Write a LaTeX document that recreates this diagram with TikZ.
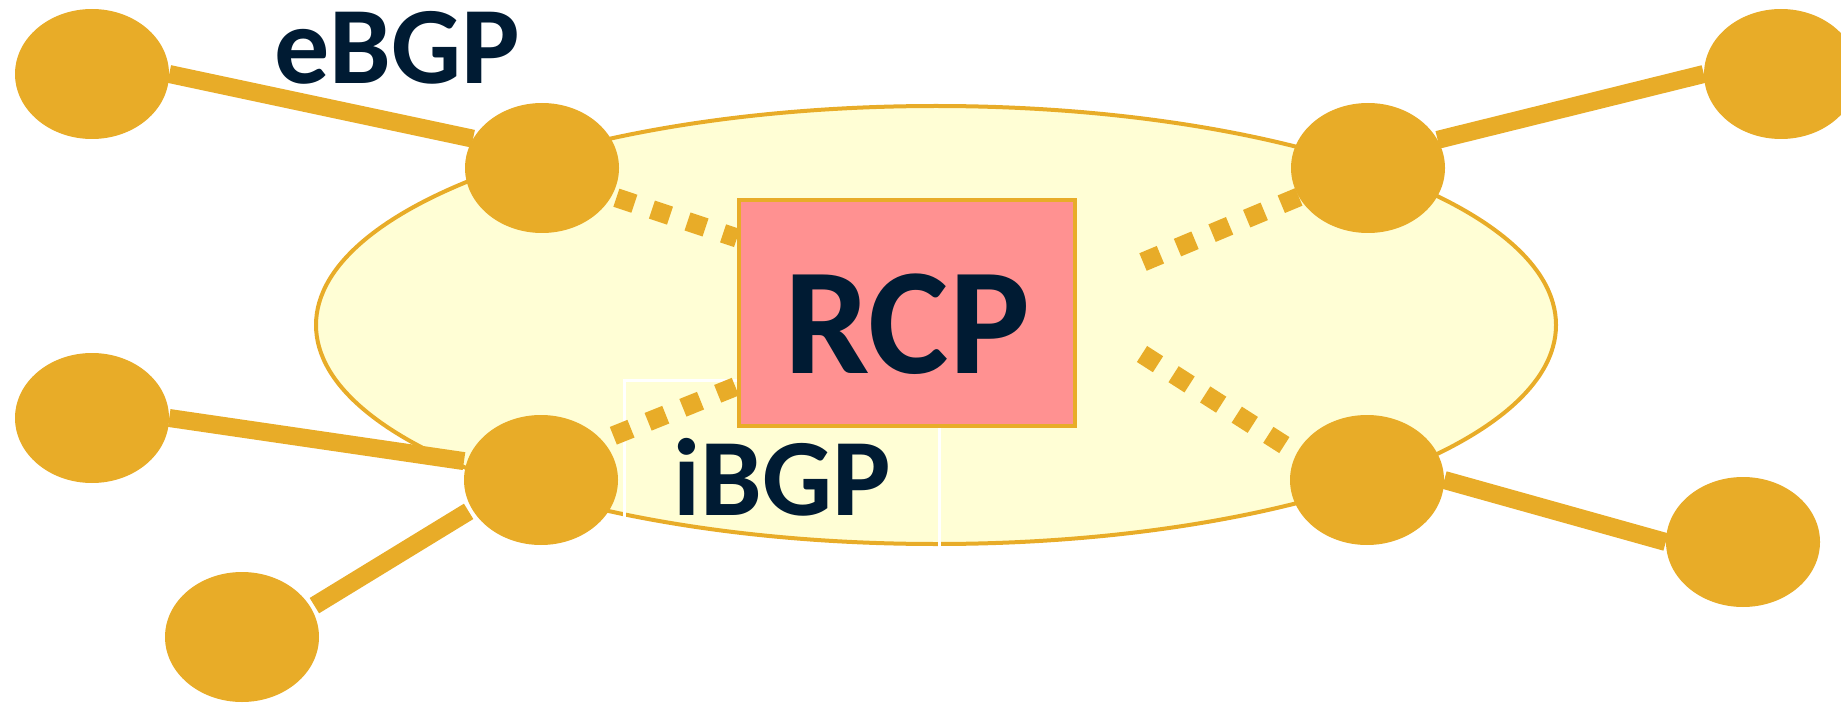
\documentclass[tikz,border=0pt]{standalone}
\usepackage{fontspec}
\setmainfont{Carlito}
\usetikzlibrary{shapes.geometric}
\definecolor{gold}{RGB}{232,172,40}
\definecolor{paleyellow}{RGB}{255,254,213}
\definecolor{rcppink}{RGB}{255,145,145}
\definecolor{navy}{RGB}{0,27,51}
\pgfdeclarelayer{back}
\pgfdeclarelayer{mid}
\pgfsetlayers{back,mid,main}
\begin{document}
\begin{tikzpicture}[x=1pt,y=-1pt,
  router/.style={ellipse, fill=gold, minimum width=154pt, minimum height=130pt, inner sep=0pt},
  link/.style={draw=gold, line width=18pt},
  session/.style={draw=gold, line width=19pt, dash pattern=on 19pt off 18.5pt},
  lbl/.style={text=navy, font=\fontsize{110}{110}\selectfont\bfseries, anchor=base, inner sep=0pt}]
\useasboundingbox (0,0) rectangle (1841,703);
% AS cloud
\begin{pgfonlayer}{back}
\node[ellipse, draw=gold, line width=4pt, fill=paleyellow, minimum width=1240pt, minimum height=438pt, inner sep=0pt] (as) at (936,325) {};
\draw[white, line width=3pt] (624,380) rectangle (939,552);
\end{pgfonlayer}
% routers
\node[router] (tl) at (92,74) {};
\node[router] (ml) at (92,418) {};
\node[router] (bl) at (242,637) {};
\node[router] (ltop) at (542,168) {};
\node[router] (lbot) at (541,480) {};
\node[router] (rtop) at (1368,168) {};
\node[router] (rbot) at (1367,480) {};
\node[router] (tr) at (1781,74) {};
\node[router] (br) at (1743,542) {};
% RCP
\node[draw=gold, line width=4pt, fill=rcppink, minimum width=336pt, minimum height=226pt, inner sep=0pt,
      text height=120pt, text depth=0pt, text=navy, font=\fontsize{152}{152}\selectfont\bfseries] (rcp) at (907,313) {RCP};
% free ends of iBGP sessions
\coordinate (c1) at (737,238);
\coordinate (c2) at (737,386);
\coordinate (c3) at (1143,262);
\coordinate (c4) at (1142,354);
\begin{pgfonlayer}{mid}
\draw[link] (tl.east) -- (ltop.157);
\draw[link, shorten >=3pt] (ml.east) -- (lbot.166);
\draw[link, shorten <=4pt, shorten >=4pt] (bl.23) -- (lbot.203);
\draw[link] (rtop.22) -- (tr.west);
\draw[link] (rbot.east) -- (br.west);
\draw[session, shorten <=5pt] (ltop.-22) -- (c1);
\draw[session, shorten <=12pt] (lbot.33) -- (c2);
\draw[session] (rtop) -- (c3);
\draw[session] (c4) -- (rbot.159);
\end{pgfonlayer}
% labels
\node[lbl] (ebgp) at (397,84) {eBGP};
\node[lbl] (ibgp) at (782,515) {iBGP};
\end{tikzpicture}
\end{document}
